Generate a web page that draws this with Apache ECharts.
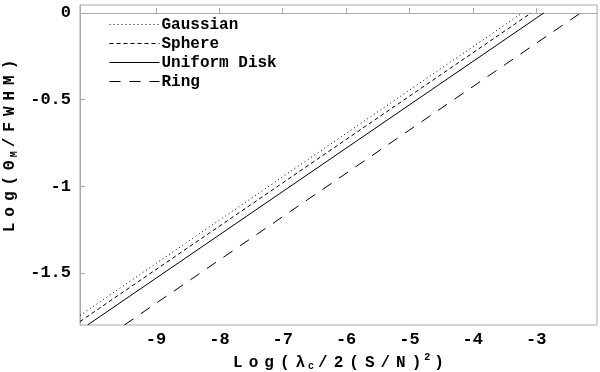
<!DOCTYPE html>
<html>
<head>
<meta charset="utf-8">
<script src="https://cdn.jsdelivr.net/npm/echarts@6/dist/echarts.min.js"></script>
<style>html,body{margin:0;padding:0;background:#fff}#c{width:600px;height:372px}</style>
</head>
<body>
<div id="c"></div>
<script>
const seriesNames = ['Gaussian', 'Sphere', 'Uniform Disk', 'Ring'];
const gaussian = [[-10.2, -1.745], [-3.22, 0]];
const sphere = [[-10.2, -1.78], [-3.08, 0]];
const uniformDisk = [[-10.08, -1.8], [-2.88, 0]];
const ring = [[-9.5, -1.8], [-2.32, -0.005]];
const xTicks = [-9, -8, -7, -6, -5, -4, -3];
const yTicks = [0, -0.5, -1, -1.5];
// title pieces: [text, style] where style n = normal, s = subscript, p = superscript
const xTitle = [['Log(λ', 'n'], ['c', 's'], ['/2(S/N)', 'n'], ['2', 'p'], [')', 'n']];
const yTitle = [['Log(Θ', 'n'], ['M', 's'], ['/FWHM)', 'n']];

const FONT = '"Liberation Mono", "Courier New", monospace';
function spaced(pieces) {
  let out = '';
  pieces.forEach(([t, k]) => {
    for (const ch of t) out += '{' + k + '|' + ch + '}';
  });
  return out;
}
const richBase = {
  n: {fontFamily: FONT, fontWeight: 'bold', fontSize: 16, color: '#000', padding: [0, 3, 0, 3]},
  s: {fontFamily: FONT, fontWeight: 'bold', fontSize: 10, color: '#000', padding: [8, 1, 0, 0]},
  p: {fontFamily: FONT, fontWeight: 'bold', fontSize: 10, color: '#000', padding: [0, 1, 10, 0]}
};

const chart = echarts.init(document.getElementById('c'), null, {renderer: 'canvas'});
const dashes = [[1, 3], [4, 3], 'solid', [11, 9]];
const datas = [gaussian, sphere, uniformDisk, ring];

chart.setOption({
  animation: false,
  backgroundColor: '#fff',
  grid: {left: 80, right: 3, top: 5, bottom: 47, show: true, borderColor: '#aaa', borderWidth: 1,
    outerBoundsMode: 'none', containLabel: false},
  legend: {
    orient: 'vertical', left: 104, top: 11, itemWidth: 50, itemHeight: 10, itemGap: 2,
    data: seriesNames,
    itemStyle: {opacity: 0},
    lineStyle: {width: 1},
    textStyle: {fontFamily: FONT, fontWeight: 'bold', fontSize: 16, lineHeight: 17, color: '#000', padding: [0, 0, 0, -3]}
  },
  xAxis: {
    type: 'value', min: -10.2, max: -2.04,
    axisLine: {show: true, lineStyle: {color: '#aaa'}},
    axisTick: {show: true, inside: true, length: 5, lineStyle: {color: '#aaa'}, customValues: xTicks},
    axisLabel: {customValues: xTicks, margin: 6, fontFamily: FONT, fontWeight: 'bold', fontSize: 17, color: '#000',
      formatter: v => String(v)},
    splitLine: {show: false},
    name: spaced(xTitle),
    nameLocation: 'middle', nameGap: 27,
    nameTextStyle: {rich: richBase}
  },
  yAxis: {
    type: 'value', min: -1.8, max: 0.046,
    axisLine: {show: true, lineStyle: {color: '#aaa'}},
    axisTick: {show: true, inside: true, length: 5, lineStyle: {color: '#aaa'}, customValues: yTicks},
    axisLabel: {customValues: yTicks, margin: 9, fontFamily: FONT, fontWeight: 'bold', fontSize: 17, color: '#000',
      formatter: v => String(v)},
    splitLine: {show: false},
    name: spaced(yTitle),
    nameLocation: 'middle', nameGap: 60, nameRotate: 90,
    nameTextStyle: {rich: richBase, padding: [0, 0, 0, 38]}
  },
  series: seriesNames.map((name, i) => ({
    name, type: 'line', data: datas[i], symbol: 'none', silent: true, clip: true,
    lineStyle: {color: '#000', width: 1, type: dashes[i]},
    itemStyle: {color: '#000'}
  }))
});
</script>
</body>
</html>
